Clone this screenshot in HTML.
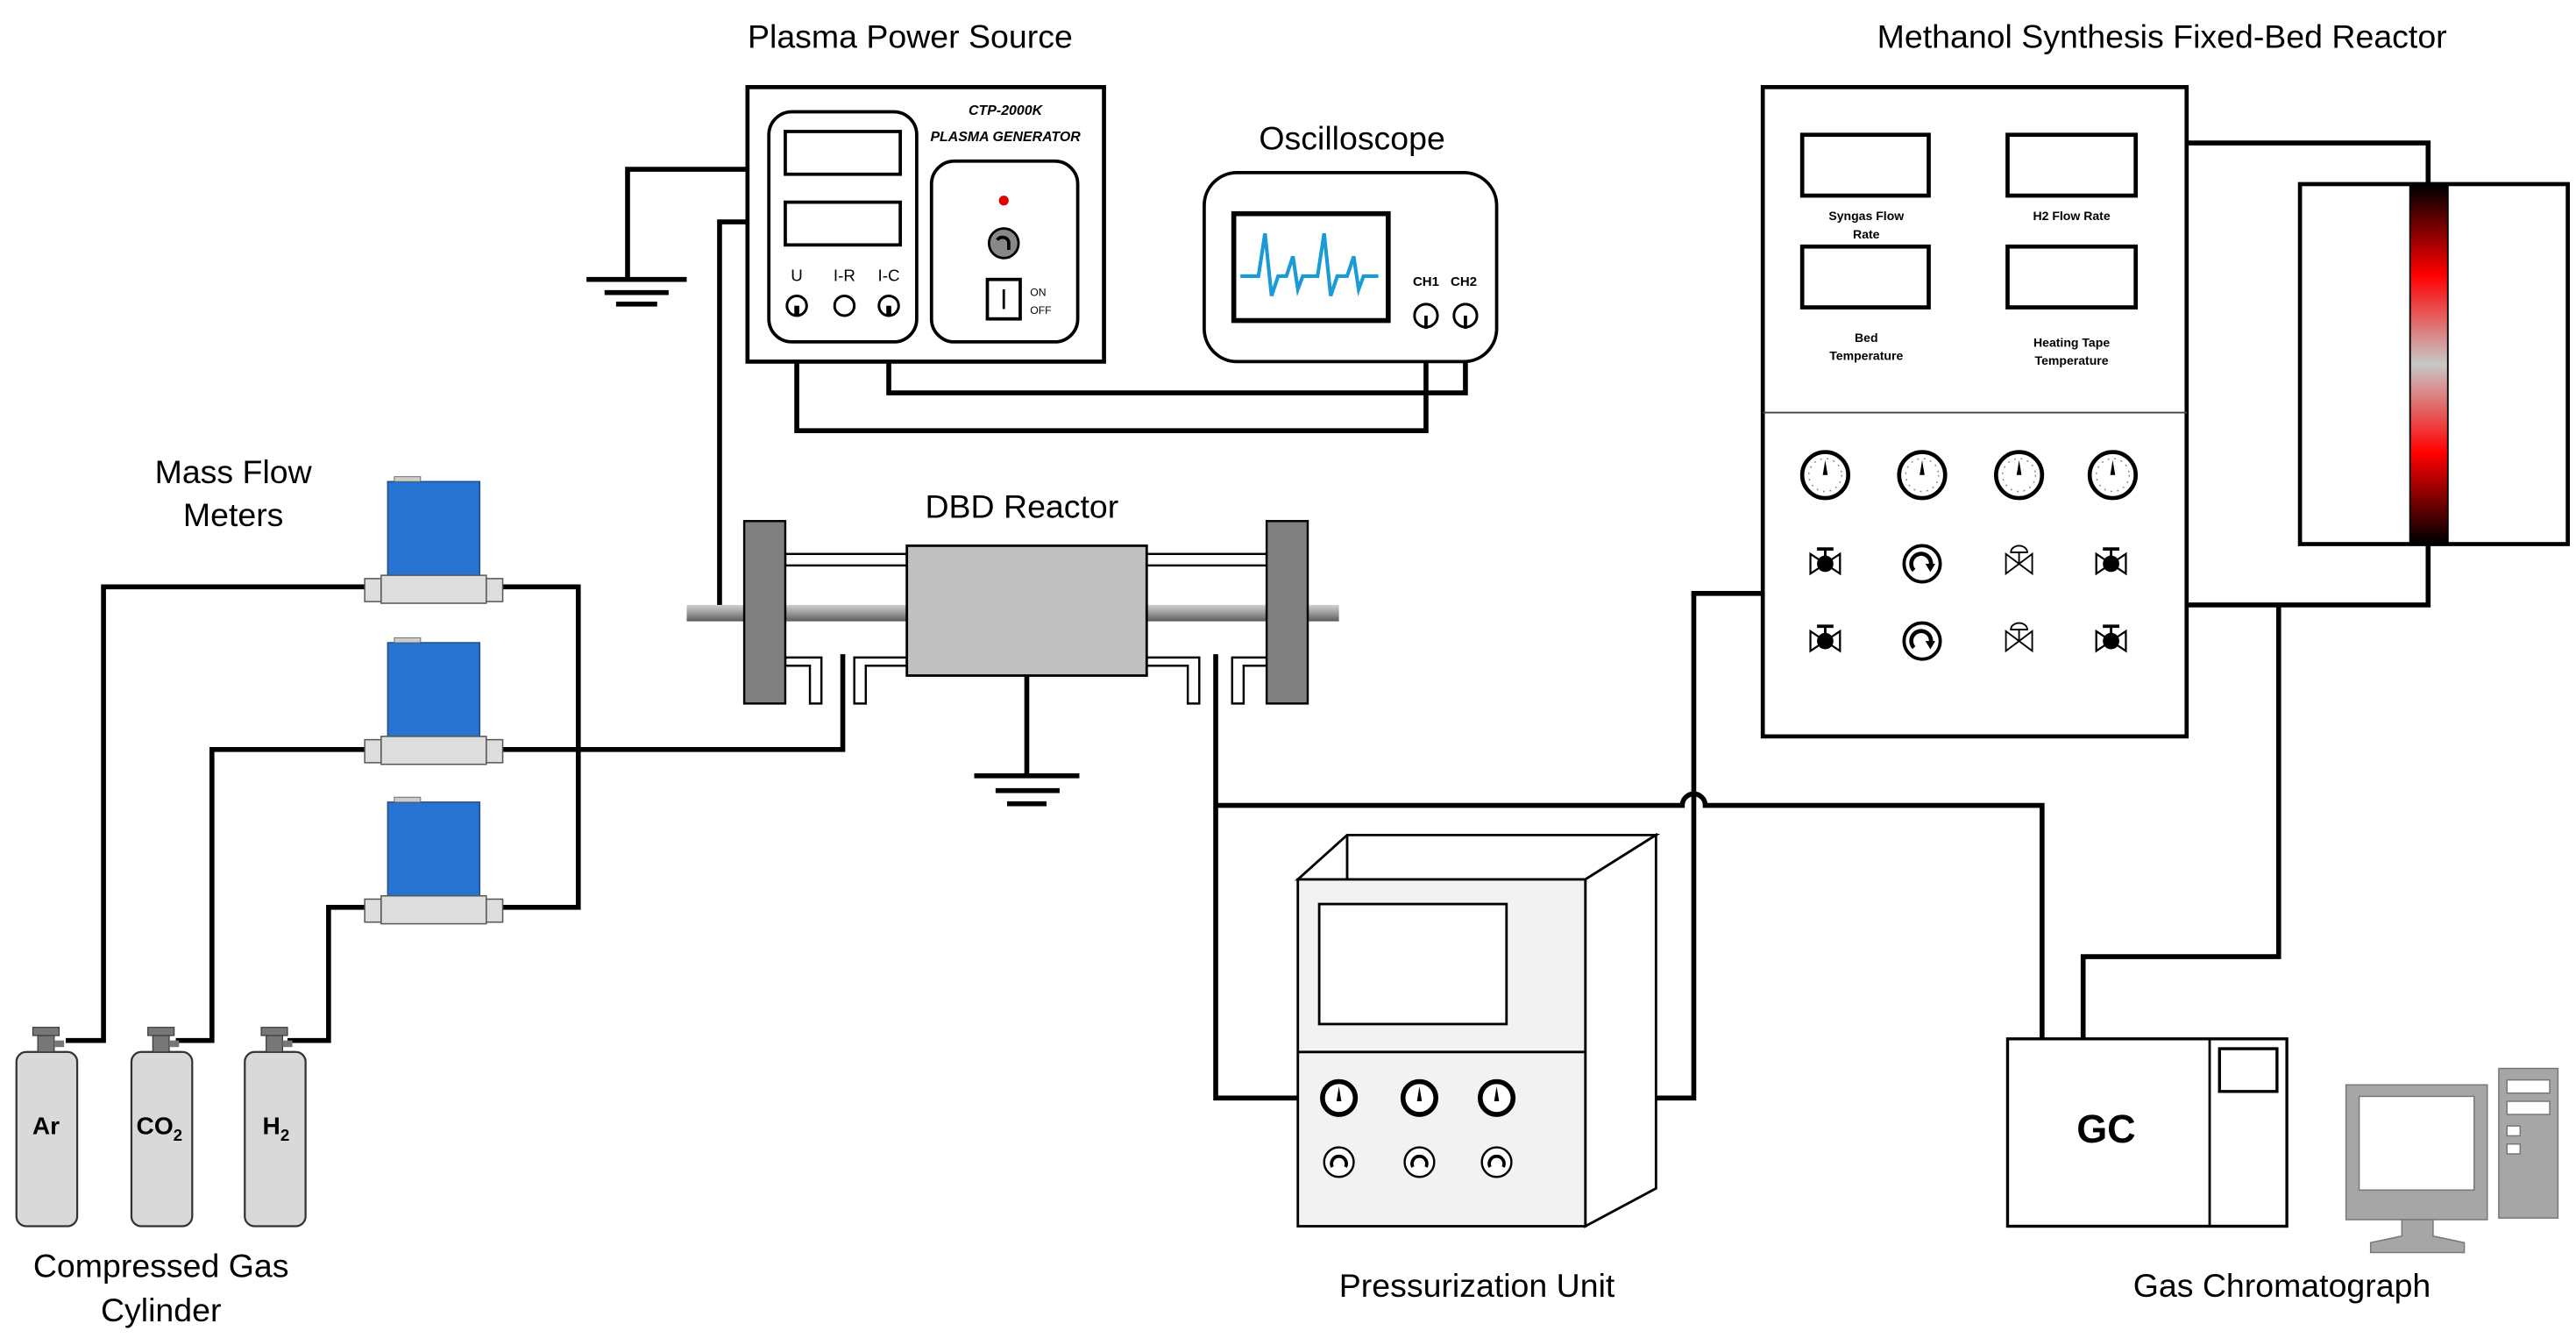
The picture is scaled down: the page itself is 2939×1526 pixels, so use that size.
<!DOCTYPE html>
<html><head><meta charset="utf-8"><style>
html,body{margin:0;padding:0;background:#fff}
svg{display:block}
text{font-family:"Liberation Sans",Arial,sans-serif;fill:#000}
</style></head><body>
<svg width="2939" height="1526" viewBox="0 0 1568 814" preserveAspectRatio="none" xmlns="http://www.w3.org/2000/svg">
<defs>
<linearGradient id="rod" x1="0" y1="0" x2="0" y2="1"><stop offset="0" stop-color="#d0d0d0"/><stop offset="0.5" stop-color="#9a9a9a"/><stop offset="1" stop-color="#5a5a5a"/></linearGradient>
<linearGradient id="heat" x1="0" y1="0" x2="0" y2="1"><stop offset="0" stop-color="#000"/><stop offset="0.25" stop-color="#f00"/><stop offset="0.5" stop-color="#c8c8c8"/><stop offset="0.75" stop-color="#f00"/><stop offset="1" stop-color="#000"/></linearGradient>
<g id="gauge"><circle r="14" fill="#fff" stroke="#000" stroke-width="2.5"/><circle r="10" fill="none" stroke="#888" stroke-width="0.8" stroke-dasharray="1 3"/><path d="M-1.5 0 L0 -9 L1.5 0 Z" fill="#000"/></g>
<g id="valve"><path d="M-9 -6 L9 6 L9 -6 L-9 6 Z" fill="#fff" stroke="#000" stroke-width="1.2"/><circle r="5" fill="#000"/><line x1="0" y1="0" x2="0" y2="-9" stroke="#000" stroke-width="1.5"/><line x1="-5" y1="-9" x2="5" y2="-9" stroke="#000" stroke-width="2"/></g>
<g id="valve2"><path d="M-8 -6 L8 6 L8 -6 L-8 6 Z" fill="#fff" stroke="#000" stroke-width="1"/><line x1="0" y1="0" x2="0" y2="-7" stroke="#000" stroke-width="1"/><path d="M-5 -7 A5 4 0 0 1 5 -7 Z" fill="#fff" stroke="#000" stroke-width="1"/></g>
<g id="pump"><circle r="11" fill="#fff" stroke="#000" stroke-width="2"/><path d="M-5 4 A6 6 0 1 1 5 2" fill="none" stroke="#000" stroke-width="2.5"/><path d="M2 0 L8 0 L5 5 Z" fill="#000"/></g>
<g id="pg"><circle r="10" fill="#fff" stroke="#000" stroke-width="3"/><path d="M-1.5 2 L0 -7 L1.5 2 Z" fill="#000"/></g>
<g id="pk"><circle r="9" fill="#fff" stroke="#000" stroke-width="1.3"/><path d="M-4 3 A4.5 4.5 0 1 1 4 3" fill="none" stroke="#000" stroke-width="2"/></g>
<g id="mfm"><rect x="236" y="0" width="56" height="59" fill="#2773d1" stroke="#1d4f8f" stroke-width="0.8"/><rect x="240" y="-3" width="16" height="3" fill="#ccc" stroke="#666" stroke-width="0.5"/><rect x="222" y="59" width="10" height="14" fill="#ddd" stroke="#555" stroke-width="0.8"/><rect x="296" y="59" width="10" height="14" fill="#ddd" stroke="#555" stroke-width="0.8"/><rect x="232" y="57" width="64" height="17" fill="#ddd" stroke="#555" stroke-width="0.8"/></g>
<g id="cyl"><rect x="0" y="15" width="37" height="106" rx="6" fill="#d9d9d9" stroke="#333" stroke-width="1.2"/><rect x="13" y="4" width="10" height="11" fill="#777" stroke="#333" stroke-width="0.6"/><rect x="10" y="0" width="16" height="5" fill="#777" stroke="#333" stroke-width="0.6"/><rect x="23" y="8" width="6" height="4" fill="#777"/></g>
</defs>

<g font-size="20">
<text x="554" y="29" text-anchor="middle">Plasma Power Source</text>
<text x="823" y="91" text-anchor="middle">Oscilloscope</text>
<text x="1316" y="29" text-anchor="middle">Methanol Synthesis Fixed-Bed Reactor</text>
<text x="142" y="294" text-anchor="middle">Mass Flow</text>
<text x="142" y="320" text-anchor="middle">Meters</text>
<text x="622" y="315" text-anchor="middle">DBD Reactor</text>
<text x="98" y="777" text-anchor="middle">Compressed Gas</text>
<text x="98" y="804" text-anchor="middle">Cylinder</text>
<text x="899" y="789" text-anchor="middle">Pressurization Unit</text>
<text x="1389" y="789" text-anchor="middle">Gas Chromatograph</text>
</g>

<g fill="none" stroke="#000" stroke-width="3">
<polyline points="455,103 382,103 382,170"/>
<polyline points="455,135 438,135 438,372"/>
<polyline points="485,186 485,262 868,262 868,192"/>
<polyline points="541,186 541,239 892,239 892,192"/>
<polyline points="40,633 63,633 63,357 226,357"/>
<polyline points="107,633 129,633 129,456 226,456"/>
<polyline points="175,633 200,633 200,552 226,552"/>
<polyline points="303,357 352,357 352,552 303,552"/>
<polyline points="303,456 513,456 513,398"/>
<polyline points="740,398 740,668 790,668"/>
<path d="M740 490 L1024 490 A7 7 0 0 1 1038 490 L1243 490 L1243 632"/>
<polyline points="1008,668 1031,668 1031,361 1073,361"/>
<polyline points="1331,87 1478,87 1478,112"/>
<polyline points="1331,368 1478,368 1478,331"/>
<polyline points="1387,368 1387,582 1268,582 1268,632"/>
<line x1="625" y1="411" x2="625" y2="472"/>
</g>
<g stroke="#000" stroke-width="3">
<line x1="357" y1="170" x2="418" y2="170"/><line x1="368" y1="178" x2="407" y2="178"/><line x1="375" y1="185" x2="400" y2="185"/>
<line x1="593" y1="472" x2="657" y2="472"/><line x1="606" y1="481" x2="645" y2="481"/><line x1="613" y1="489" x2="637" y2="489"/>
</g>

<rect x="455" y="53" width="217" height="167" fill="#fff" stroke="#000" stroke-width="2.5"/>
<rect x="468" y="68" width="90" height="140" rx="14" fill="#fff" stroke="#000" stroke-width="2"/>
<rect x="478" y="80" width="70" height="26" fill="#fff" stroke="#000" stroke-width="2"/>
<rect x="478" y="123" width="70" height="26" fill="#fff" stroke="#000" stroke-width="2"/>
<g font-size="10" text-anchor="middle" fill="#333"><text x="485" y="171">U</text><text x="514" y="171">I-R</text><text x="541" y="171">I-C</text></g>
<g fill="#fff" stroke="#000" stroke-width="1.6"><circle cx="485" cy="186" r="6"/><circle cx="514" cy="186" r="6"/><circle cx="541" cy="186" r="6"/></g>
<polyline points="485,186 485,192" stroke="#000" stroke-width="3"/><polyline points="541,186 541,192" stroke="#000" stroke-width="3"/>
<rect x="567" y="98" width="89" height="110" rx="14" fill="#fff" stroke="#000" stroke-width="2"/>
<g font-size="8.5" font-weight="bold" font-style="italic" text-anchor="middle"><text x="612" y="70">CTP-2000K</text><text x="612" y="86">PLASMA GENERATOR</text></g>
<circle cx="611" cy="122" r="3" fill="#d00"/>
<circle cx="611" cy="148" r="9" fill="#888" stroke="#000" stroke-width="1.5"/>
<path d="M607 146 A4 4 0 0 1 614 147 L614 152" fill="none" stroke="#000" stroke-width="2"/>
<rect x="601" y="170" width="20" height="24" fill="#fff" stroke="#000" stroke-width="2"/>
<line x1="611" y1="176" x2="611" y2="188" stroke="#000" stroke-width="1.5"/>
<g font-size="6.5" fill="#333"><text x="627" y="180">ON</text><text x="627" y="191">OFF</text></g>

<rect x="733" y="105" width="178" height="115" rx="20" fill="#fff" stroke="#000" stroke-width="2"/>
<rect x="751" y="130" width="94" height="65" fill="#fff" stroke="#000" stroke-width="3"/>
<polyline points="755,168 766,168 770,142 774,180 778,168 783,168 787,156 790,176 793,168 802,168 806,142 810,180 814,168 820,168 824,156 827,176 830,168 839,168" fill="none" stroke="#1a9ad6" stroke-width="2.2"/>
<g font-size="8" font-weight="bold" text-anchor="middle"><text x="868" y="174">CH1</text><text x="891" y="174">CH2</text></g>
<g fill="#fff" stroke="#000" stroke-width="1.6"><circle cx="868" cy="192" r="7"/><circle cx="892" cy="192" r="7"/></g>
<line x1="868" y1="192" x2="868" y2="200" stroke="#000" stroke-width="2"/><line x1="892" y1="192" x2="892" y2="200" stroke="#000" stroke-width="2"/>

<use href="#mfm" y="293"/><use href="#mfm" y="391"/><use href="#mfm" y="488"/>

<use href="#cyl" x="10" y="625"/><use href="#cyl" x="80" y="625"/><use href="#cyl" x="149" y="625"/>
<g font-size="15" font-weight="bold" text-anchor="middle"><text x="28" y="690">Ar</text><text x="97" y="690">CO<tspan font-size="10" dy="4">2</tspan></text><text x="168" y="690">H<tspan font-size="10" dy="4">2</tspan></text></g>

<rect x="418" y="368" width="397" height="10" fill="url(#rod)"/>
<g fill="#fff" stroke="#000" stroke-width="1.3">
<rect x="478" y="337" width="74" height="7"/><rect x="698" y="337" width="73" height="7"/>
<path d="M478 400 L500 400 L500 428 L493 428 L493 405 L478 405 Z"/>
<path d="M552 400 L520 400 L520 428 L527 428 L527 405 L552 405 Z"/>
<path d="M698 400 L730 400 L730 428 L723 428 L723 405 L698 405 Z"/>
<path d="M771 400 L750 400 L750 428 L757 428 L757 405 L771 405 Z"/>
</g>
<rect x="552" y="332" width="146" height="79" fill="#c0c0c0" stroke="#000" stroke-width="1.5"/>
<rect x="453" y="317" width="25" height="111" fill="#808080" stroke="#000" stroke-width="1.3"/>
<rect x="771" y="317" width="25" height="111" fill="#808080" stroke="#000" stroke-width="1.3"/>

<g stroke="#000" stroke-width="1.5" fill="#fff">
<path d="M790 535 L820 508 L1008 508 L965 535 Z"/>
<path d="M965 535 L1008 508 L1008 723 L965 746 Z"/>
<line x1="820" y1="508" x2="820" y2="535"/>
<rect x="790" y="535" width="175" height="211" fill="#f2f2f2"/>
<line x1="790" y1="640" x2="965" y2="640"/>
<rect x="803" y="550" width="114" height="73"/>
</g>
<use href="#pg" x="815" y="668"/><use href="#pg" x="864" y="668"/><use href="#pg" x="911" y="668"/>
<use href="#pk" x="815" y="707"/><use href="#pk" x="864" y="707"/><use href="#pk" x="911" y="707"/>

<rect x="1073" y="53" width="258" height="395" fill="#fff" stroke="#000" stroke-width="2.5"/>
<line x1="1073" y1="251" x2="1331" y2="251" stroke="#444" stroke-width="1"/>
<g fill="#fff" stroke="#000" stroke-width="2.5">
<rect x="1097" y="82" width="77" height="37"/><rect x="1222" y="82" width="78" height="37"/>
<rect x="1097" y="150" width="77" height="37"/><rect x="1222" y="150" width="78" height="37"/>
</g>
<g font-size="7.5" font-weight="bold" text-anchor="middle" fill="#222">
<text x="1136" y="134">Syngas Flow</text><text x="1136" y="145">Rate</text>
<text x="1261" y="134">H2 Flow Rate</text>
<text x="1136" y="208">Bed</text><text x="1136" y="219">Temperature</text>
<text x="1261" y="211">Heating Tape</text><text x="1261" y="222">Temperature</text>
</g>
<use href="#gauge" x="1111" y="289"/><use href="#gauge" x="1170" y="289"/><use href="#gauge" x="1229" y="289"/><use href="#gauge" x="1286" y="289"/>
<use href="#valve" x="1111" y="343"/><use href="#pump" x="1170" y="343"/><use href="#valve2" x="1229" y="343"/><use href="#valve" x="1285" y="343"/>
<use href="#valve" x="1111" y="390"/><use href="#pump" x="1170" y="390"/><use href="#valve2" x="1229" y="390"/><use href="#valve" x="1285" y="390"/>

<rect x="1400" y="112" width="163" height="219" fill="#fff" stroke="#000" stroke-width="2.5"/>
<rect x="1467" y="113" width="23" height="217" fill="url(#heat)"/>
<line x1="1467" y1="112" x2="1467" y2="331" stroke="#000" stroke-width="1"/>
<line x1="1490" y1="112" x2="1490" y2="331" stroke="#000" stroke-width="1"/>

<rect x="1222" y="632" width="170" height="114" fill="#fff" stroke="#000" stroke-width="1.8"/>
<line x1="1345" y1="632" x2="1345" y2="746" stroke="#000" stroke-width="1.5"/>
<rect x="1351" y="638" width="35" height="26" fill="#fff" stroke="#000" stroke-width="1.8"/>
<text x="1282" y="695" font-size="24" font-weight="bold" text-anchor="middle">GC</text>

<g fill="#a6a6a6" stroke="#777" stroke-width="0.8">
<rect x="1428" y="660" width="86" height="82"/>
<path d="M1462 742 L1462 752 L1443 756 L1443 762 L1500 762 L1500 756 L1481 752 L1481 742 Z"/>
<rect x="1521" y="650" width="36" height="91"/>
</g>
<g fill="#fff" stroke="#777" stroke-width="0.8">
<rect x="1436" y="667" width="70" height="57"/>
<rect x="1526" y="657" width="26" height="8"/><rect x="1526" y="670" width="26" height="8"/>
<rect x="1526" y="685" width="8" height="6"/><rect x="1526" y="696" width="8" height="6"/>
</g>
</svg>
</body></html>
